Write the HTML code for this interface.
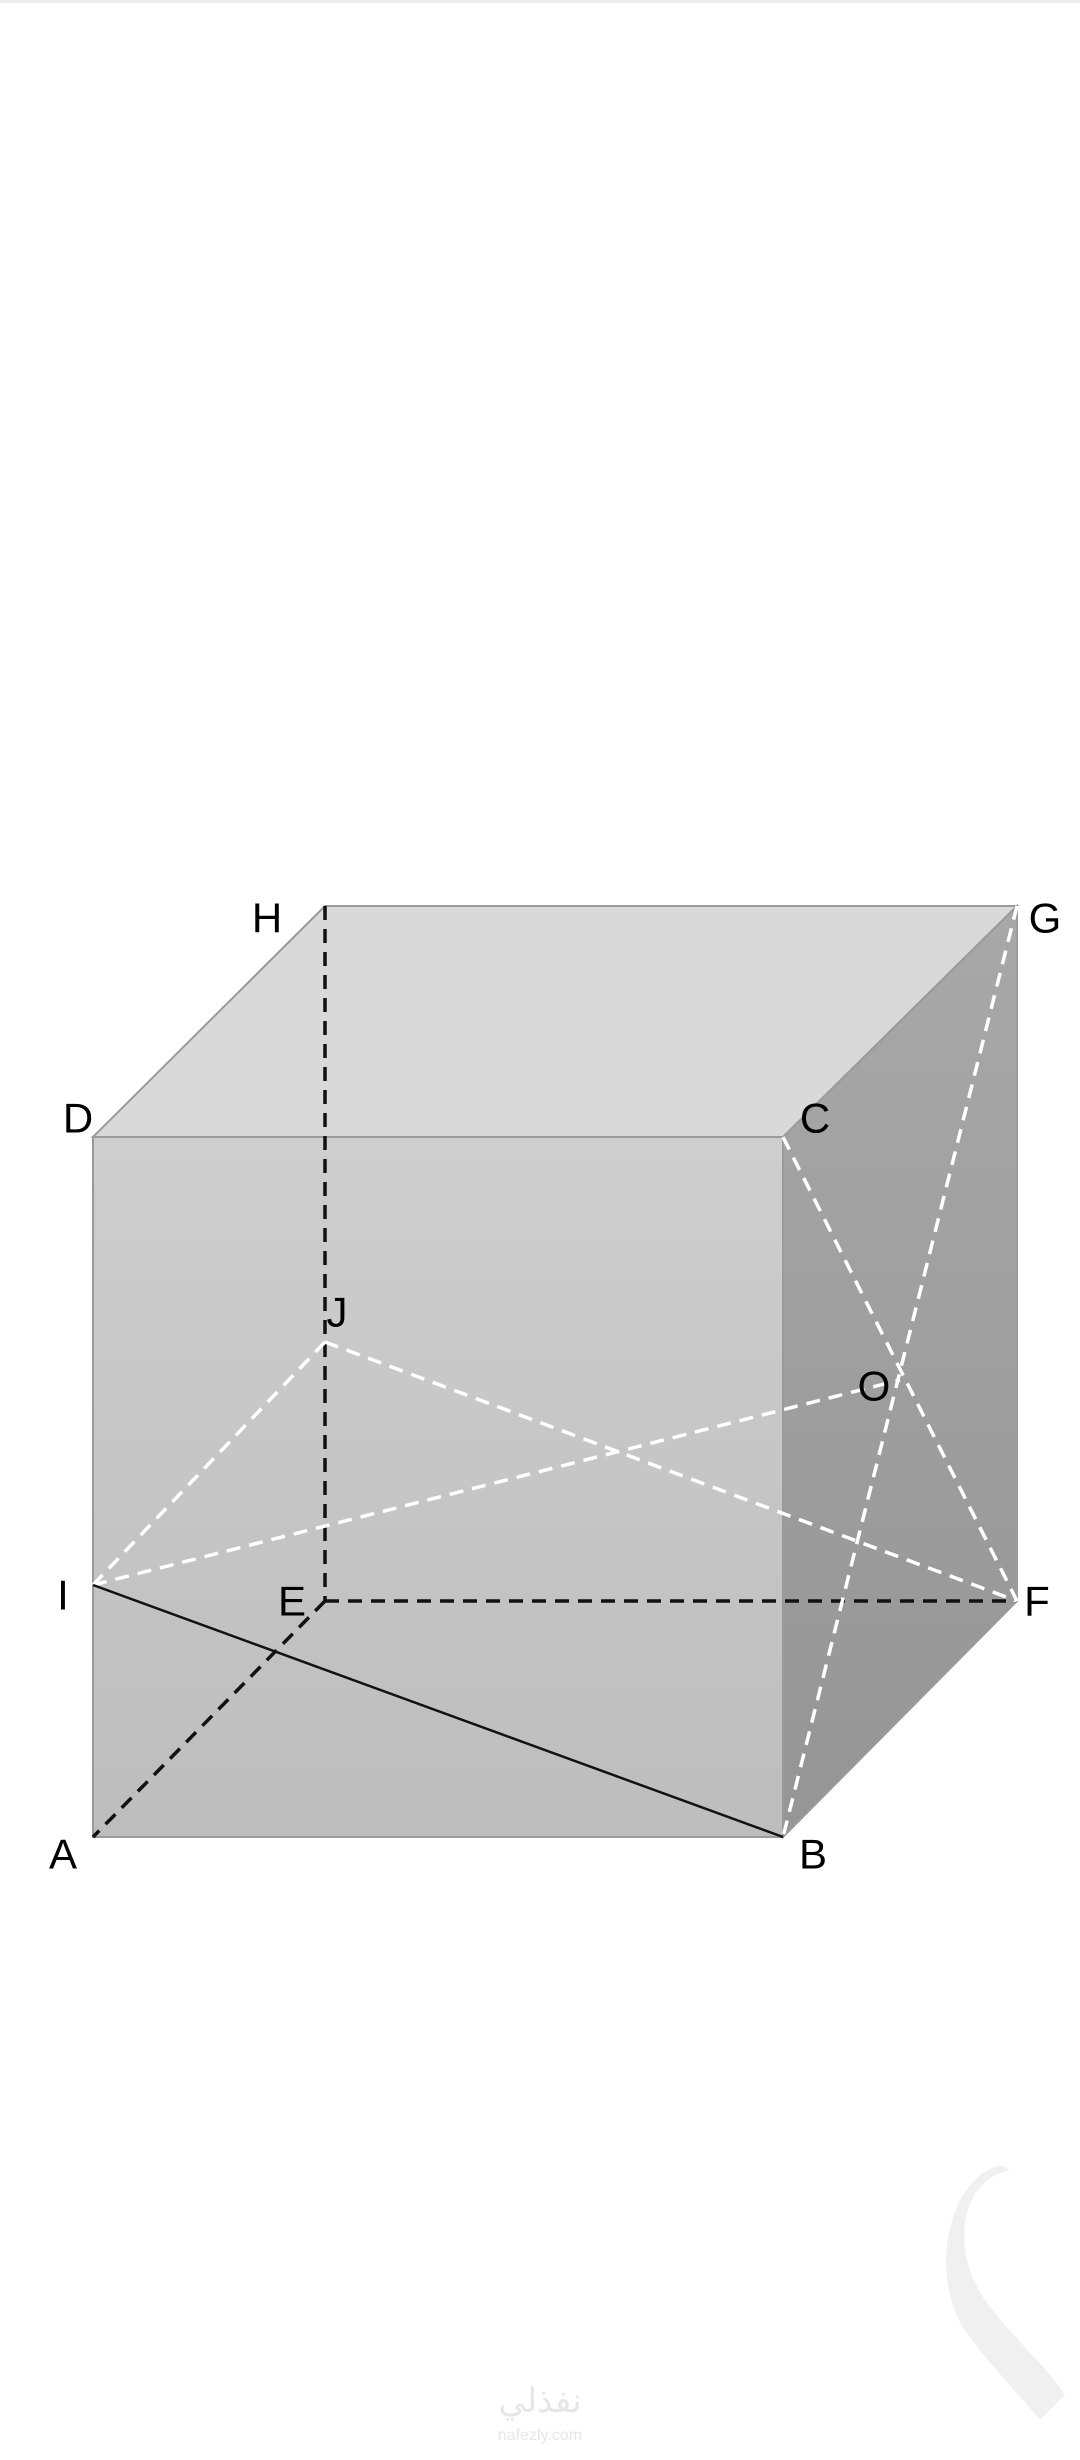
<!DOCTYPE html>
<html><head><meta charset="utf-8"><style>
html,body{margin:0;padding:0;background:#fff;}
svg{display:block;}
text{font-family:"Liberation Sans",sans-serif;}
</style></head><body>
<svg width="1080" height="2460" viewBox="0 0 1080 2460" xmlns="http://www.w3.org/2000/svg">
<defs>
<linearGradient id="fr" x1="0" y1="0" x2="0" y2="1"><stop offset="0" stop-color="#cecece"/><stop offset="1" stop-color="#bdbdbd"/></linearGradient>
<linearGradient id="rt" x1="0" y1="0" x2="0" y2="1"><stop offset="0" stop-color="#a8a8a8"/><stop offset="1" stop-color="#959595"/></linearGradient>
</defs>
<rect x="0" y="0" width="1080" height="3" fill="#eee"/>
<!-- faces -->
<polygon points="93,1137 325,906 1017,906 783,1137" fill="#d9d9d9" stroke="#9a9a9a" stroke-width="2"/>
<polygon points="783,1137 1017,906 1017,1601 783,1837" fill="url(#rt)" stroke="#9a9a9a" stroke-width="2"/>
<rect x="93" y="1137" width="690" height="700" fill="url(#fr)" stroke="#9a9a9a" stroke-width="2"/>
<!-- black dashed -->
<g stroke="#111" stroke-width="3.5" stroke-dasharray="14,9" fill="none">
<line x1="325" y1="906" x2="325" y2="1601"/>
<line x1="325" y1="1601" x2="1017" y2="1601"/>
<line x1="325" y1="1601" x2="93" y2="1837"/>
</g>
<!-- white dashed -->
<g stroke="#fff" stroke-width="3.5" stroke-dasharray="14,9" fill="none">
<line x1="93" y1="1585" x2="325" y2="1342"/>
<line x1="325" y1="1342" x2="1017" y2="1601"/>
<line x1="93" y1="1585" x2="900" y2="1380"/>
<line x1="783" y1="1137" x2="1017" y2="1601"/>
<line x1="1017" y1="906" x2="783" y2="1837"/>
</g>
<line x1="93" y1="1585" x2="783" y2="1837" stroke="#111" stroke-width="2.5"/>
<!-- labels -->
<g font-size="42" fill="#000" text-anchor="middle" dominant-baseline="central">
<text x="267" y="918">H</text>
<text x="1045" y="918">G</text>
<text x="78" y="1118">D</text>
<text x="815" y="1118">C</text>
<text x="337" y="1312">J</text>
<text x="874" y="1386">O</text>
<text x="63" y="1595">I</text>
<text x="292" y="1601">E</text>
<text x="1037" y="1601">F</text>
<text x="63" y="1854">A</text>
<text x="813" y="1854">B</text>
</g>
<!-- watermark -->
<path d="M1010,2170 C960,2180 950,2250 985,2300 C1010,2335 1050,2370 1065,2395 L1040,2420 C1020,2395 985,2360 965,2330 C930,2280 945,2180 1000,2165 Z" fill="#f0f0f0"/>
<text x="540" y="2412" font-size="34" fill="#e6e6e6" text-anchor="middle" font-family="'Liberation Sans','Noto Sans CJK SC',sans-serif">نفذلي</text>
<text x="540" y="2440" font-size="16" fill="#e6e6e6" text-anchor="middle">nafezly.com</text>
</svg>
</body></html>
